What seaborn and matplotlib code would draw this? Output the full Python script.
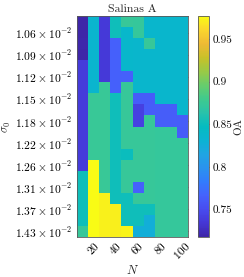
import matplotlib
matplotlib.use("Agg")
import matplotlib.pyplot as plt
import pandas as pd
import seaborn as sns
from matplotlib.colors import LinearSegmentedColormap

# sample counts (columns) and the labelled noise levels (every other row)
n_values = [10, 20, 30, 40, 50, 60, 70, 80, 90, 100]
sigma_ticks = ["1.06", "1.09", "1.12", "1.15", "1.18", "1.22", "1.26", "1.31", "1.37", "1.43"]
cbar_ticks = [0.75, 0.8, 0.85, 0.9, 0.95]

# overall accuracy, 20 sigma rows x 10 N columns
oa = [
    [0.718, 0.835, 0.737, 0.852, 0.873, 0.872, 0.837, 0.837, 0.837, 0.837],
    [0.719, 0.835, 0.737, 0.852, 0.838, 0.872, 0.837, 0.837, 0.837, 0.837],
    [0.720, 0.835, 0.737, 0.765, 0.838, 0.837, 0.873, 0.837, 0.837, 0.837],
    [0.719, 0.835, 0.737, 0.765, 0.838, 0.837, 0.837, 0.837, 0.837, 0.837],
    [0.738, 0.835, 0.737, 0.765, 0.838, 0.837, 0.837, 0.837, 0.837, 0.837],
    [0.738, 0.835, 0.737, 0.765, 0.765, 0.837, 0.837, 0.837, 0.837, 0.837],
    [0.738, 0.835, 0.874, 0.765, 0.873, 0.837, 0.837, 0.837, 0.837, 0.837],
    [0.738, 0.874, 0.874, 0.852, 0.873, 0.762, 0.762, 0.837, 0.837, 0.837],
    [0.738, 0.874, 0.874, 0.852, 0.873, 0.742, 0.763, 0.763, 0.763, 0.837],
    [0.738, 0.874, 0.874, 0.852, 0.873, 0.742, 0.873, 0.763, 0.763, 0.763],
    [0.738, 0.874, 0.874, 0.852, 0.873, 0.873, 0.873, 0.872, 0.872, 0.762],
    [0.738, 0.874, 0.874, 0.852, 0.873, 0.873, 0.873, 0.872, 0.872, 0.872],
    [0.738, 0.874, 0.874, 0.852, 0.850, 0.873, 0.873, 0.872, 0.872, 0.872],
    [0.738, 0.976, 0.874, 0.852, 0.873, 0.873, 0.873, 0.872, 0.872, 0.872],
    [0.852, 0.976, 0.874, 0.852, 0.873, 0.873, 0.873, 0.872, 0.872, 0.872],
    [0.852, 0.976, 0.874, 0.852, 0.873, 0.766, 0.873, 0.872, 0.872, 0.872],
    [0.852, 0.976, 0.972, 0.852, 0.852, 0.873, 0.873, 0.872, 0.872, 0.872],
    [0.852, 0.977, 0.972, 0.971, 0.852, 0.852, 0.852, 0.872, 0.872, 0.872],
    [0.852, 0.977, 0.972, 0.971, 0.852, 0.852, 0.826, 0.872, 0.872, 0.872],
    [0.873, 0.977, 0.972, 0.971, 0.973, 0.826, 0.826, 0.872, 0.872, 0.872],
]

parula = LinearSegmentedColormap.from_list("parula", [
    (0.2422, 0.1504, 0.6603), (0.2704, 0.2138, 0.8346), (0.2813, 0.2985, 0.9397),
    (0.2710, 0.3860, 0.9898), (0.1950, 0.4861, 0.9887), (0.1649, 0.5755, 0.9323),
    (0.1253, 0.6453, 0.8887), (0.0433, 0.7039, 0.8242), (0.0162, 0.7352, 0.7558),
    (0.1609, 0.7635, 0.6671), (0.2491, 0.7922, 0.5546), (0.4050, 0.8031, 0.4233),
    (0.6024, 0.7896, 0.2726), (0.7829, 0.7579, 0.1608), (0.9357, 0.7290, 0.2061),
    (0.9807, 0.8342, 0.1787), (0.9769, 0.9839, 0.0805),
])

sns.set_style("white")
plt.rcParams["font.family"] = ["cmr10", "DejaVu Serif"]
plt.rcParams["mathtext.fontset"] = "cm"
plt.rcParams["axes.formatter.use_mathtext"] = True

df = pd.DataFrame(oa, columns=n_values)

fig = plt.figure(figsize=(2.44, 2.77), dpi=100)
ax = fig.add_axes([77 / 244, 40 / 277, 111 / 244, 221 / 277])
cax = fig.add_axes([198 / 244, 40 / 277, 11 / 244, 221 / 277])

sns.heatmap(df, ax=ax, cbar_ax=cax, cmap=parula, xticklabels=False, yticklabels=False,
            linewidths=0, rasterized=True)

xt = [i + 0.5 for i, n in enumerate(n_values) if n % 20 == 0]
ax.set_xticks(xt)
ax.set_xticklabels([str(n) for n in n_values if n % 20 == 0], rotation=45)
ax.set_yticks([2 * k + 1.5 for k in range(len(sigma_ticks))])
ax.set_yticklabels([r"$%s \times 10^{-2}$" % s for s in sigma_ticks], rotation=0)
ax.tick_params(direction="in", length=2.5, width=0.5, top=True, right=True,
               labelsize=8.3, pad=3, colors="0.3", labelcolor="k")
for sp in ax.spines.values():
    sp.set_visible(True)
    sp.set_linewidth(0.6)
    sp.set_color("0.35")

ax.set_title("Salinas A", fontsize=8.5, pad=3)
ax.set_xlabel("$N$", fontsize=9)
ax.set_ylabel(r"$\sigma_0$", fontsize=8.5)
ax.xaxis.set_label_coords(0.5, -0.12)
ax.yaxis.set_label_coords(-0.58, 0.5)

cbar = ax.collections[0].colorbar
cbar.set_ticks(cbar_ticks)
cbar.set_ticklabels(["%g" % t for t in cbar_ticks])
cbar.outline.set_linewidth(0.6)
cbar.outline.set_edgecolor("0.35")
cax.tick_params(direction="in", length=2.5, width=0.5, labelsize=8, pad=2.5,
                colors="0.3", labelcolor="k")
cax.set_ylabel("OA", fontsize=8, labelpad=1)

fig.savefig("out.png", dpi=100)
plt.close(fig)
